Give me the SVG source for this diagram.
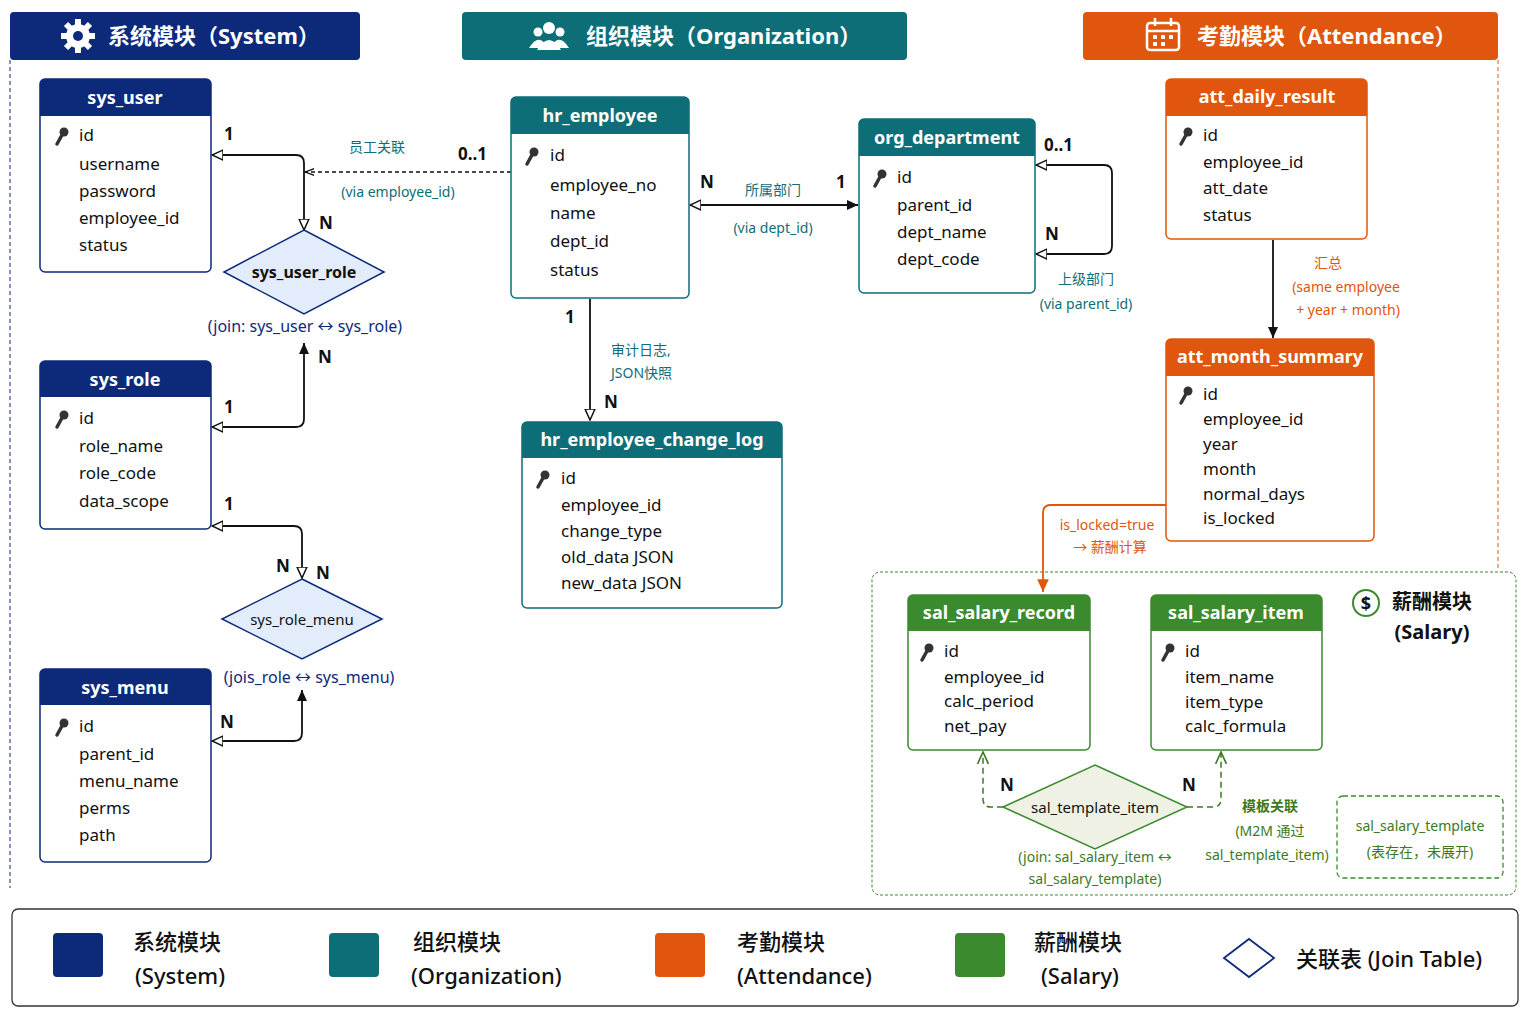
<svg xmlns="http://www.w3.org/2000/svg" width="1536" height="1024" viewBox="0 0 1536 1024">
<defs>
<style>
text{font-family:"Noto Sans","Noto Sans CJK SC",sans-serif;fill:#111}
.hd{font-size:22px;font-weight:bold;fill:#fff}
.th{font-size:18px;font-weight:bold;fill:#fff;text-anchor:middle}
.f{font-size:17px}
.c{font-size:17px;font-weight:bold}
.lbT{font-size:14px;fill:#0e6e78}
.lbO{font-size:14px;fill:#e0560e}
.lbG{font-size:14px;fill:#3c7a22}
.lbB{font-size:16px;fill:#0d2a7a}
.m{text-anchor:middle}
.lg{font-size:22px;font-weight:500}
.ln{fill:none;stroke:#111;stroke-width:1.8}
</style>
<marker id="oa" viewBox="0 0 12 12" refX="11" refY="6" markerWidth="12" markerHeight="12" orient="auto-start-reverse" markerUnits="userSpaceOnUse"><path d="M0,1 L11,6 L0,11 Z" fill="#fff" stroke="#111" stroke-width="1.5"/></marker>
<marker id="fa" viewBox="0 0 12 12" refX="11" refY="6" markerWidth="12" markerHeight="12" orient="auto-start-reverse" markerUnits="userSpaceOnUse"><path d="M0,1 L11,6 L0,11 Z" fill="#111"/></marker>
<marker id="orA" viewBox="0 0 12 12" refX="11" refY="6" markerWidth="14" markerHeight="14" orient="auto" markerUnits="userSpaceOnUse"><path d="M0,1 L11,6 L0,11 Z" fill="#e0560e"/></marker>
<marker id="gA" viewBox="0 0 12 12" refX="11" refY="6" markerWidth="13" markerHeight="13" orient="auto" markerUnits="userSpaceOnUse"><path d="M0,1 L11,6 L0,11" fill="none" stroke="#3c7a22" stroke-width="1.5"/></marker>
<marker id="sa" viewBox="0 0 12 12" refX="11" refY="6" markerWidth="10" markerHeight="10" orient="auto" markerUnits="userSpaceOnUse"><path d="M0,2 L11,6 L0,10" fill="none" stroke="#111" stroke-width="1.5"/></marker>
<g id="key"><circle cx="4" cy="-6" r="4.5" fill="#333"/><path d="M2,-3 L-3,6" stroke="#333" stroke-width="3.5" stroke-linecap="round"/></g>
</defs>
<rect width="1536" height="1024" fill="#fff"/>

<g id="frames">
<path d="M10,60 V888" stroke="#0d2a7a" stroke-dasharray="4,3" fill="none"/>
<path d="M1498,60 V570" stroke="#e0560e" stroke-dasharray="4,3" fill="none"/>
<rect x="872" y="572" width="644" height="323" rx="8" fill="none" stroke="#3c8a2e" stroke-dasharray="3,2"/>
</g>

<g id="hdr-system">
<rect x="10" y="12" width="350" height="48" rx="4" fill="#0d2a7a"/>
<g transform="translate(78,36)" fill="#fff"><circle r="12"/><g stroke="#fff" stroke-width="6"><path d="M0,-17 V17 M-17,0 H17 M-12,-12 L12,12 M-12,12 L12,-12"/></g><circle r="5" fill="#0d2a7a"/></g>
<text class="hd" x="108" y="44">系统模块（System）</text>
</g>
<g id="hdr-org">
<rect x="462" y="12" width="445" height="48" rx="4" fill="#0e6e78"/>
<g fill="#fff"><circle cx="549" cy="28" r="6"/><circle cx="538" cy="32" r="4.5"/><circle cx="560" cy="32" r="4.5"/><path d="M537,50 Q549,30 561,50Z"/><path d="M529,48 Q538,34 545,44 L543,48Z"/><path d="M569,48 Q560,34 553,44 L555,48Z"/></g>
<text class="hd" x="586" y="44">组织模块（Organization）</text>
</g>
<g id="hdr-att">
<rect x="1083" y="12" width="415" height="48" rx="4" fill="#e0560e"/>
<g fill="none" stroke="#fff" stroke-width="2.5"><rect x="1147" y="23" width="32" height="27" rx="3"/><path d="M1147,31 H1179 M1155,18 V26 M1171,18 V26"/></g>
<g fill="#fff"><rect x="1153" y="35" width="4" height="4"/><rect x="1161" y="35" width="4" height="4"/><rect x="1169" y="35" width="4" height="4"/><rect x="1153" y="42" width="4" height="4"/><rect x="1161" y="42" width="4" height="4"/></g>
<text class="hd" x="1197" y="44">考勤模块（Attendance）</text>
</g>

<g id="connectors">
<path class="ln" d="M212,155 H296 Q304,155 304,163 V230" marker-start="url(#oa)" marker-end="url(#oa)"/>
<path d="M511,172 H305" fill="none" stroke="#111" stroke-width="1.3" stroke-dasharray="4,3" marker-end="url(#sa)"/>
<path class="ln" d="M212,427 H296 Q304,427 304,419 V343" marker-start="url(#oa)" marker-end="url(#fa)"/>
<path class="ln" d="M212,526 H294 Q302,526 302,534 V578" marker-start="url(#oa)" marker-end="url(#oa)"/>
<path class="ln" d="M212,741 H294 Q302,741 302,733 V690" marker-start="url(#oa)" marker-end="url(#fa)"/>
<path class="ln" d="M690,205 H858" marker-start="url(#oa)" marker-end="url(#fa)"/>
<path class="ln" d="M1036,165 H1104 Q1112,165 1112,173 V246 Q1112,254 1104,254 H1036" marker-start="url(#oa)" marker-end="url(#oa)"/>
<path class="ln" d="M590,299 V420" marker-end="url(#oa)"/>
<path class="ln" d="M1273,240 V338" marker-end="url(#fa)"/>
<path d="M1166,505 H1051 Q1043,505 1043,513 V592" fill="none" stroke="#e0560e" stroke-width="1.8" marker-end="url(#orA)"/>
<path d="M1003,807 H991 Q983,807 983,799 V752" fill="none" stroke="#3c7a22" stroke-width="1.5" stroke-dasharray="6,4" marker-end="url(#gA)"/>
<path d="M1187,807 H1213 Q1221,807 1221,799 V752" fill="none" stroke="#3c7a22" stroke-width="1.5" stroke-dasharray="6,4" marker-end="url(#gA)"/>
</g>

<g id="conn-labels">
<text class="c" x="224" y="140">1</text>
<text class="c" x="319" y="229">N</text>
<text class="lbT m" x="377" y="152">员工关联</text>
<text class="c" x="458" y="160">0..1</text>
<text class="lbT m" x="398" y="197">(via employee_id)</text>
<text class="lbB m" x="305" y="332">(join: sys_user ↔ sys_role)</text>
<text class="c" x="318" y="363">N</text>
<text class="c" x="224" y="413">1</text>
<text class="c" x="224" y="510">1</text>
<text class="c" x="276" y="572">N</text>
<text class="c" x="316" y="579">N</text>
<text class="lbB m" x="309" y="683">(jois_role ↔ sys_menu)</text>
<text class="c" x="220" y="728">N</text>
<text class="c" x="700" y="188">N</text>
<text class="lbT m" x="773" y="195">所属部门</text>
<text class="c" x="836" y="188">1</text>
<text class="lbT m" x="773" y="233">(via dept_id)</text>
<text class="c" x="1044" y="151">0..1</text>
<text class="c" x="1045" y="240">N</text>
<text class="lbT m" x="1086" y="284">上级部门</text>
<text class="lbT m" x="1086" y="309">(via parent_id)</text>
<text class="c" x="565" y="323">1</text>
<text class="lbT" x="611" y="355">审计日志,</text>
<text class="lbT" x="611" y="378">JSON快照</text>
<text class="c" x="604" y="408">N</text>
<text class="lbO m" x="1328" y="268">汇总</text>
<text class="lbO m" x="1346" y="292">(same employee</text>
<text class="lbO m" x="1348" y="315">+ year + month)</text>
<text class="lbO m" x="1107" y="530">is_locked=true</text>
<text class="lbO m" x="1110" y="552">→ 薪酬计算</text>
<text class="c" x="1000" y="791">N</text>
<text class="c" x="1182" y="791">N</text>
<text class="lbG m" x="1095" y="862" font-size="15">(join: sal_salary_item ↔</text>
<text class="lbG m" x="1095" y="884" font-size="15">sal_salary_template)</text>
<text class="lbG m" x="1270" y="811" font-weight="bold" font-size="15">模板关联</text>
<text class="lbG m" x="1270" y="836">(M2M 通过</text>
<text class="lbG m" x="1267" y="860" font-size="13">sal_template_item)</text>
</g>

<g id="sys_user">
<rect x="40" y="79" width="171" height="193" rx="5" fill="#fff" stroke="#0d2a7a" stroke-width="1.5"/>
<path d="M40,116 V84 Q40,79 45,79 H206 Q211,79 211,84 V116Z" fill="#0d2a7a"/>
<text class="th" x="125" y="104">sys_user</text>
<use href="#key" x="60" y="138"/>
<text class="f" x="79" y="141">id</text><text class="f" x="79" y="170">username</text><text class="f" x="79" y="197">password</text><text class="f" x="79" y="224">employee_id</text><text class="f" x="79" y="251">status</text>
</g>
<g id="sys_user_role">
<path d="M304,230 L384,272 L304,314 L224,272Z" fill="#e3ecfb" stroke="#0d2a7a" stroke-width="1.5"/>
<text class="m" x="304" y="278" font-size="16" font-weight="bold" fill="#0d2a7a">sys_user_role</text>
</g>
<g id="sys_role">
<rect x="40" y="361" width="171" height="168" rx="5" fill="#fff" stroke="#0d2a7a" stroke-width="1.5"/>
<path d="M40,397 V366 Q40,361 45,361 H206 Q211,361 211,366 V397Z" fill="#0d2a7a"/>
<text class="th" x="125" y="386">sys_role</text>
<use href="#key" x="60" y="421"/>
<text class="f" x="79" y="424">id</text><text class="f" x="79" y="452">role_name</text><text class="f" x="79" y="479">role_code</text><text class="f" x="79" y="507">data_scope</text>
</g>
<g id="sys_role_menu">
<path d="M302,579 L382,619 L302,659 L222,619Z" fill="#e3ecfb" stroke="#0d2a7a" stroke-width="1.5"/>
<text class="m" x="302" y="625" font-size="15" fill="#0d2a7a">sys_role_menu</text>
</g>
<g id="sys_menu">
<rect x="40" y="669" width="171" height="193" rx="5" fill="#fff" stroke="#0d2a7a" stroke-width="1.5"/>
<path d="M40,705 V674 Q40,669 45,669 H206 Q211,669 211,674 V705Z" fill="#0d2a7a"/>
<text class="th" x="125" y="694">sys_menu</text>
<use href="#key" x="60" y="729"/>
<text class="f" x="79" y="732">id</text><text class="f" x="79" y="760">parent_id</text><text class="f" x="79" y="787">menu_name</text><text class="f" x="79" y="814">perms</text><text class="f" x="79" y="841">path</text>
</g>

<g id="hr_employee">
<rect x="511" y="97" width="178" height="201" rx="5" fill="#fff" stroke="#0e6e78" stroke-width="1.5"/>
<path d="M511,134 V102 Q511,97 516,97 H684 Q689,97 689,102 V134Z" fill="#0e6e78"/>
<text class="th" x="600" y="122">hr_employee</text>
<use href="#key" x="530" y="158"/>
<text class="f" x="550" y="161">id</text><text class="f" x="550" y="191">employee_no</text><text class="f" x="550" y="219">name</text><text class="f" x="550" y="247">dept_id</text><text class="f" x="550" y="276">status</text>
</g>
<g id="org_department">
<rect x="859" y="119" width="176" height="174" rx="5" fill="#fff" stroke="#0e6e78" stroke-width="1.5"/>
<path d="M859,156 V124 Q859,119 864,119 H1030 Q1035,119 1035,124 V156Z" fill="#0e6e78"/>
<text class="th" x="947" y="144">org_department</text>
<use href="#key" x="878" y="180"/>
<text class="f" x="897" y="183">id</text><text class="f" x="897" y="211">parent_id</text><text class="f" x="897" y="238">dept_name</text><text class="f" x="897" y="265">dept_code</text>
</g>
<g id="hr_employee_change_log">
<rect x="522" y="422" width="260" height="186" rx="5" fill="#fff" stroke="#0e6e78" stroke-width="1.5"/>
<path d="M522,458 V427 Q522,422 527,422 H777 Q782,422 782,427 V458Z" fill="#0e6e78"/>
<text class="th" x="652" y="446">hr_employee_change_log</text>
<use href="#key" x="541" y="481"/>
<text class="f" x="561" y="484">id</text><text class="f" x="561" y="511">employee_id</text><text class="f" x="561" y="537">change_type</text><text class="f" x="561" y="563">old_data JSON</text><text class="f" x="561" y="589">new_data JSON</text>
</g>

<g id="att_daily_result">
<rect x="1166" y="79" width="201" height="160" rx="5" fill="#fff" stroke="#e0560e" stroke-width="1.5"/>
<path d="M1166,116 V84 Q1166,79 1171,79 H1362 Q1367,79 1367,84 V116Z" fill="#e0560e"/>
<text class="th" x="1267" y="103">att_daily_result</text>
<use href="#key" x="1184" y="138"/>
<text class="f" x="1203" y="141">id</text><text class="f" x="1203" y="168">employee_id</text><text class="f" x="1203" y="194">att_date</text><text class="f" x="1203" y="221">status</text>
</g>
<g id="att_month_summary">
<rect x="1166" y="339" width="208" height="202" rx="5" fill="#fff" stroke="#e0560e" stroke-width="1.5"/>
<path d="M1166,376 V344 Q1166,339 1171,339 H1369 Q1374,339 1374,344 V376Z" fill="#e0560e"/>
<text class="th" x="1270" y="363">att_month_summary</text>
<use href="#key" x="1184" y="397"/>
<text class="f" x="1203" y="400">id</text><text class="f" x="1203" y="425">employee_id</text><text class="f" x="1203" y="450">year</text><text class="f" x="1203" y="475">month</text><text class="f" x="1203" y="500">normal_days</text><text class="f" x="1203" y="524">is_locked</text>
</g>

<g id="salary-title">
<circle cx="1366" cy="603" r="13" fill="none" stroke="#3c8a2e" stroke-width="2"/>
<text x="1366" y="610" class="m" font-size="18" font-weight="bold" fill="#3c8a2e">$</text>
<text x="1432" y="609" class="m" font-size="20" font-weight="bold" fill="#3c7a22">薪酬模块</text>
<text x="1432" y="639" class="m" font-size="20" font-weight="bold" fill="#3c7a22">(Salary)</text>
</g>
<g id="sal_salary_record">
<rect x="908" y="595" width="182" height="155" rx="5" fill="#fff" stroke="#3c8a2e" stroke-width="1.5"/>
<path d="M908,631 V600 Q908,595 913,595 H1085 Q1090,595 1090,600 V631Z" fill="#3c8a2e"/>
<text class="th" x="999" y="619">sal_salary_record</text>
<use href="#key" x="925" y="654"/>
<text class="f" x="944" y="657">id</text><text class="f" x="944" y="683">employee_id</text><text class="f" x="944" y="707">calc_period</text><text class="f" x="944" y="732">net_pay</text>
</g>
<g id="sal_salary_item">
<rect x="1151" y="595" width="171" height="155" rx="5" fill="#fff" stroke="#3c8a2e" stroke-width="1.5"/>
<path d="M1151,631 V600 Q1151,595 1156,595 H1317 Q1322,595 1322,600 V631Z" fill="#3c8a2e"/>
<text class="th" x="1236" y="619">sal_salary_item</text>
<use href="#key" x="1166" y="654"/>
<text class="f" x="1185" y="657">id</text><text class="f" x="1185" y="683">item_name</text><text class="f" x="1185" y="708">item_type</text><text class="f" x="1185" y="732">calc_formula</text>
</g>
<g id="sal_template_item">
<path d="M1095,765 L1187,807 L1095,849 L1003,807Z" fill="#eef1e3" stroke="#3c8a2e" stroke-width="1.5"/>
<text class="m" x="1095" y="813" font-size="15" fill="#1d3d10">sal_template_item</text>
</g>
<g id="sal_salary_template">
<rect x="1337" y="796" width="166" height="82" rx="6" fill="#fff" stroke="#3c8a2e" stroke-width="1.3" stroke-dasharray="5,3"/>
<text class="lbG m" x="1420" y="831" font-size="15">sal_salary_template</text>
<text class="lbG m" x="1420" y="857" font-size="15">(表存在，未展开)</text>
</g>

<g id="legend">
<rect x="12" y="909" width="1506" height="97" rx="6" fill="#fff" stroke="#333" stroke-width="1.3"/>
<rect x="53" y="933" width="50" height="44" rx="4" fill="#0d2a7a"/>
<text class="lg" x="133" y="950">系统模块</text><text class="lg" x="135" y="984">(System)</text>
<rect x="329" y="933" width="50" height="44" rx="4" fill="#0e6e78"/>
<text class="lg" x="413" y="950">组织模块</text><text class="lg" x="411" y="984">(Organization)</text>
<rect x="655" y="933" width="50" height="44" rx="4" fill="#e0560e"/>
<text class="lg" x="737" y="950">考勤模块</text><text class="lg" x="737" y="984">(Attendance)</text>
<rect x="955" y="933" width="50" height="44" rx="4" fill="#3c8a2e"/>
<text class="lg" x="1034" y="950">薪酬模块</text><text class="lg" x="1041" y="984">(Salary)</text>
<path d="M1249,939 L1274,958 L1249,977 L1224,958Z" fill="#fff" stroke="#0d2a7a" stroke-width="1.8"/>
<text class="lg" x="1296" y="967">关联表 (Join Table)</text>
</g>
</svg>
